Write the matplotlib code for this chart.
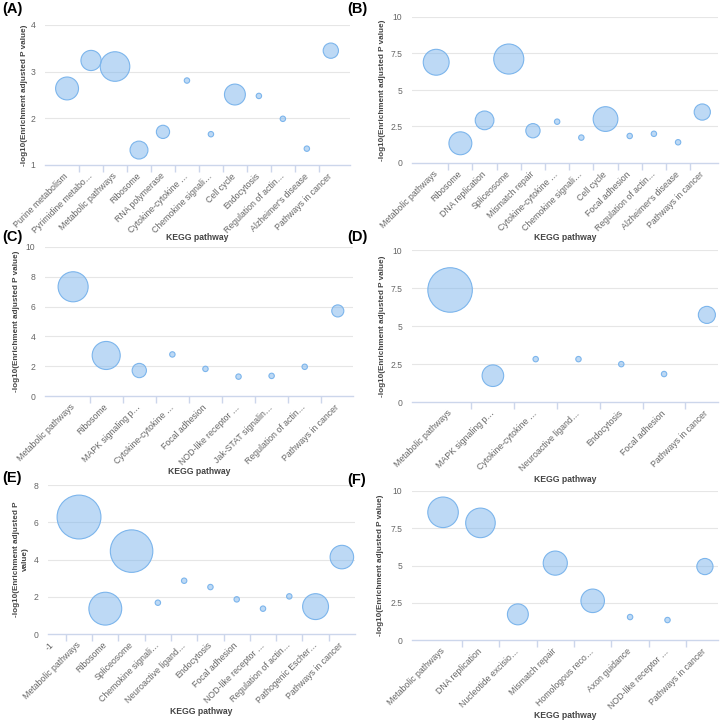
import matplotlib
matplotlib.use("Agg")
import matplotlib.pyplot as plt
import numpy as np

plt.rcParams['font.family'] = ['Liberation Sans', 'DejaVu Sans']

# ---------------- data ----------------
A_cats = ["Purine metabolism", "Pyrimidine metabo…", "Metabolic pathways", "Ribosome",
          "RNA polymerase", "Cytokine-cytokine …", "Chemokine signali…", "Cell cycle",
          "Endocytosis", "Regulation of actin…", "Alzheimer's disease", "Pathways in cancer"]
A_vals = [2.64, 3.24, 3.11, 1.32, 1.71, 2.81, 1.66, 2.51, 2.48, 1.99, 1.35, 3.45]
A_counts = [18, 14, 30, 11, 6, 1, 1, 15, 1, 1, 1, 8]

B_cats = ["Metabolic pathways", "Ribosome", "DNA replication", "Spliceosome",
          "Mismatch repair", "Cytokine-cytokine …", "Chemokine signali…", "Cell cycle",
          "Focal adhesion", "Regulation of actin…", "Alzheimer's disease", "Pathways in cancer"]
B_vals = [6.90, 1.35, 2.92, 7.12, 2.21, 2.83, 1.74, 3.01, 1.85, 2.00, 1.42, 3.49]
B_counts = [23, 18, 12, 31, 7, 1, 1, 21, 1, 1, 1, 9]

C_cats = ["Metabolic pathways", "Ribosome", "MAPK signaling p…", "Cytokine-cytokine …",
          "Focal adhesion", "NOD-like receptor …", "Jak-STAT signalin…",
          "Regulation of actin…", "Pathways in cancer"]
C_vals = [7.33, 2.72, 1.71, 2.79, 1.82, 1.30, 1.35, 1.96, 5.71]
C_counts = [31, 27, 7, 1, 1, 1, 1, 1, 5]

D_cats = ["Metabolic pathways", "MAPK signaling p…", "Cytokine-cytokine …",
          "Neuroactive ligand…", "Endocytosis", "Focal adhesion", "Pathways in cancer"]
D_vals = [7.37, 1.73, 2.82, 2.82, 2.49, 1.84, 5.73]
D_counts = [68, 16, 1, 1, 1, 1, 10]

E_extra_label = "-1"
E_cats = ["Metabolic pathways", "Ribosome", "Spliceosome", "Chemokine signali…",
          "Neuroactive ligand…", "Endocytosis", "Focal adhesion", "NOD-like receptor …",
          "Regulation of actin…", "Pathogenic Escher…", "Pathways in cancer"]
E_vals = [6.28, 1.36, 4.45, 1.68, 2.86, 2.52, 1.86, 1.36, 2.02, 1.47, 4.13]
E_counts = [66, 37, 62, 1, 1, 1, 1, 1, 1, 23, 19]

F_cats = ["Metabolic pathways", "DNA replication", "Nucleotide excisio…", "Mismatch repair",
          "Homologous reco…", "Axon guidance", "NOD-like receptor …", "Pathways in cancer"]
F_vals = [8.57, 7.86, 1.72, 5.16, 2.63, 1.54, 1.34, 4.93]
F_counts = [32, 30, 15, 20, 19, 1, 1, 9]

YLABEL = "-log10(Enrichment adjusted P value)"
YLABEL_E = "-log10(Enrichment adjusted P\nvalue)"
XLABEL = "KEGG pathway"

# ---------------- figure ----------------
W, H = 720, 722
fig = plt.figure(figsize=(W / 100, H / 100), dpi=100)

EDGE = "#7cb5ec"
FACE = (0x7c / 255, 0xb5 / 255, 0xec / 255, 0.5)
GRID = "#e6e6e6"
AXLINE = "#ccd6eb"
LBL = "#666666"
TITLE = "#444444"


def fx(x):
    return x / W


def fy(y):
    return 1 - y / H


def make_panel(rect_px, cats, vals, counts, ylim, yticks, xlim, ylab, ylab_x, xlab_y,
               letter, letter_xy, extra=None):
    x0, y0, x1, y1 = rect_px
    ax = fig.add_axes([fx(x0), fy(y1), (x1 - x0) / W, (y1 - y0) / H])
    pos = np.arange(len(cats))
    sizes = 15.1 * np.asarray(counts, dtype=float)
    ax.scatter(pos, vals, s=sizes, facecolor=FACE, edgecolor=EDGE, linewidth=0.8,
               zorder=3, clip_on=False)
    ax.set_xlim(*xlim)
    ax.set_ylim(*ylim)
    ax.set_yticks(yticks)
    ax.set_yticklabels([("%g" % t) for t in yticks])
    ax.tick_params(axis='y', length=0, pad=7, labelsize=6.2, labelcolor=LBL)
    for t in yticks[1:]:
        ax.axhline(t, color=GRID, lw=0.8, zorder=0)
    for s in ['top', 'right', 'left']:
        ax.spines[s].set_visible(False)
    ax.spines['bottom'].set_color(AXLINE)
    ax.spines['bottom'].set_linewidth(1.0)
    ax.spines['bottom'].set_zorder(1)

    labels = list(cats)
    tpos = list(pos)
    bounds = list(np.arange(len(cats) - 1) + 0.5)
    if extra is not None:
        labels = [extra] + labels
        tpos = [-1] + tpos
        bounds = [-0.5] + bounds
    ax.set_xticks(tpos)
    ax.set_xticklabels(labels, rotation=45, ha='right', va='center',
                       rotation_mode='anchor', fontsize=6.3, color=LBL)
    ax.tick_params(axis='x', which='major', length=0, pad=7)
    ax.set_xticks(bounds, minor=True)
    ax.tick_params(axis='x', which='minor', length=5, width=1.0, color=AXLINE)

    cy = (y0 + y1) / 2
    fig.text(fx(ylab_x), fy(cy), ylab, rotation=90, ha='center', va='center',
             fontsize=5.9, fontweight='bold', color=TITLE, linespacing=1.3)
    fig.text(fx((x0 + x1) / 2), fy(xlab_y), XLABEL, ha='center', va='center',
             fontsize=6.2, fontweight='bold', color=TITLE)
    fig.text(fx(letter_xy[0]), fy(letter_xy[1]), letter, ha='left', va='center',
             fontsize=10.5, fontweight='bold', color='black')
    return ax


make_panel((45, 25, 350, 165), A_cats, A_vals, A_counts, (1, 4), [1, 2, 3, 4],
           (-0.92, 11.8), YLABEL, 25, 237, "(A)", (2, 9))
make_panel((412, 17, 718, 163), B_cats, B_vals, B_counts, (0, 10), [0, 2.5, 5, 7.5, 10],
           (-1.0, 11.65), YLABEL, 382, 238, "(B)", (347, 9))
make_panel((45, 247, 353, 396), C_cats, C_vals, C_counts, (0, 10), [0, 2, 4, 6, 8, 10],
           (-0.85, 8.46), YLABEL, 17, 472, "(C)", (2, 237))
make_panel((412, 250, 718, 402), D_cats, D_vals, D_counts, (0, 10), [0, 2.5, 5, 7.5, 10],
           (-0.89, 6.26), YLABEL, 382, 479, "(D)", (347, 237))
make_panel((48, 485, 355, 634), E_cats, E_vals, E_counts, (0, 8), [0, 2, 4, 6, 8],
           (-1.18, 10.5), YLABEL_E, 21, 711, "(E)", (2, 478), extra=E_extra_label)
make_panel((412, 491, 718, 640), F_cats, F_vals, F_counts, (0, 10), [0, 2.5, 5, 7.5, 10],
           (-0.83, 7.35), YLABEL, 381, 716, "(F)", (347, 480))

fig.savefig("out.png", dpi=100)
